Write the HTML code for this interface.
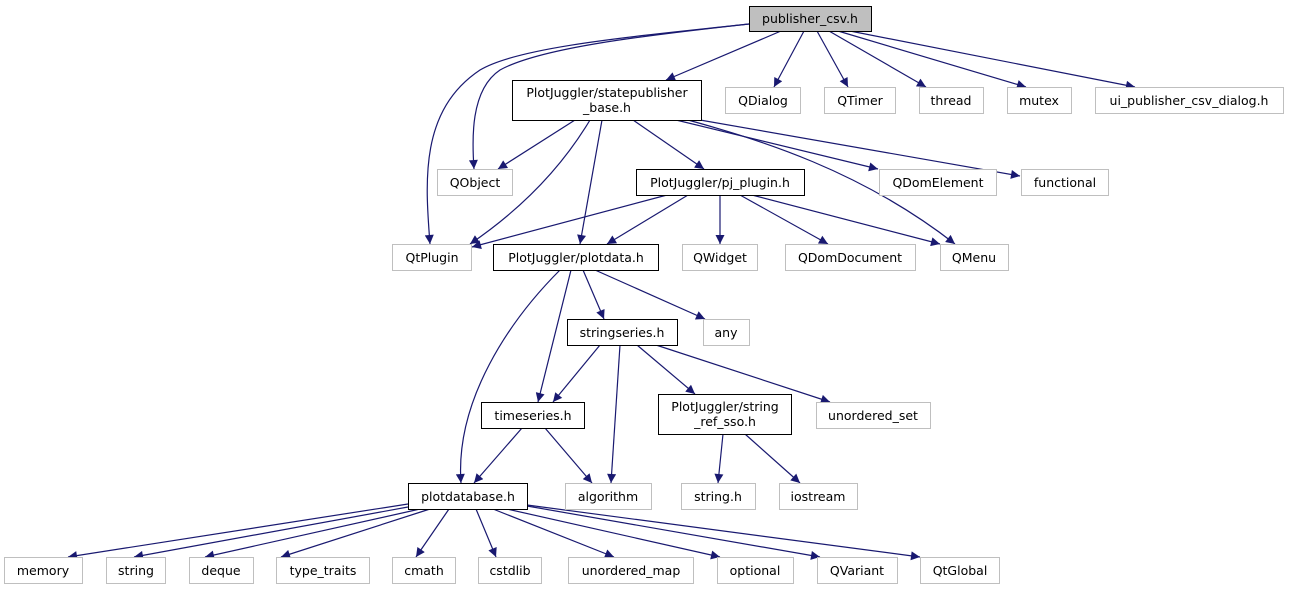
<!DOCTYPE html>
<html><head><meta charset="utf-8"><style>
body{margin:0;background:#fff;}
svg text{font-family:"DejaVu Sans","Liberation Sans",sans-serif;font-size:12.5px;text-anchor:middle;fill:#000;}
</style></head><body>
<svg width="1291" height="589" viewBox="0 0 1291 589" xmlns="http://www.w3.org/2000/svg">
<defs><marker id="a" viewBox="0 0 10 10" refX="10" refY="5" markerWidth="10" markerHeight="9" markerUnits="userSpaceOnUse" orient="auto"><path d="M0,0L10,5L0,10z" fill="#191970"/></marker></defs>
<g fill="none" stroke="#191970" stroke-width="1.2" marker-end="url(#a)">
<path d="M749,24C640,36 520,46 480,70C420,110 425,180 430,244"/>
<path d="M749,24C640,36 540,48 500,70C470,90 472,140 474,169"/>
<path d="M781,31L666,80"/>
<path d="M804,31L774,87"/>
<path d="M817,31L848,87"/>
<path d="M829,31L926,87"/>
<path d="M838,31L1026,87"/>
<path d="M850,31L1135,87"/>
<path d="M575,120L498,169"/>
<path d="M590,120C560,170 520,210 470,244"/>
<path d="M602,120L580,244"/>
<path d="M633,120L704,169"/>
<path d="M676,120L878,169"/>
<path d="M688,120C760,140 860,170 955,244"/>
<path d="M700,120L1020,176"/>
<path d="M667,195L472,247"/>
<path d="M688,195L607,244"/>
<path d="M720,195L720,244"/>
<path d="M740,195L828,244"/>
<path d="M752,195L940,244"/>
<path d="M560,270C510,320 455,400 461,483"/>
<path d="M571,270L538,402"/>
<path d="M583,270L604,319"/>
<path d="M595,270L705,319"/>
<path d="M600,345L553,402"/>
<path d="M620,345L611,483"/>
<path d="M637,345L695,394"/>
<path d="M656,345L830,402"/>
<path d="M522,428L474,483"/>
<path d="M545,428L592,483"/>
<path d="M723,434L718,483"/>
<path d="M745,434L800,483"/>
<path d="M408,504L68,557"/>
<path d="M408,507L134,557"/>
<path d="M420,509L205,557"/>
<path d="M430,509L281,557"/>
<path d="M449,509L416,557"/>
<path d="M476,509L496,557"/>
<path d="M493,509L614,557"/>
<path d="M507,509L720,557"/>
<path d="M527,506L820,557"/>
<path d="M527,505L920,557"/>
</g>
<g stroke-width="1">
<rect x="749.5" y="6.5" width="122" height="25" fill="#bfbfbf" stroke="#000"/>
<rect x="512.5" y="80.5" width="189" height="40" fill="#fff" stroke="#000"/>
<rect x="636.5" y="169.5" width="168" height="26" fill="#fff" stroke="#000"/>
<rect x="493.5" y="244.5" width="165" height="26" fill="#fff" stroke="#000"/>
<rect x="567.5" y="319.5" width="110" height="26" fill="#fff" stroke="#000"/>
<rect x="481.5" y="402.5" width="103" height="26" fill="#fff" stroke="#000"/>
<rect x="658.5" y="394.5" width="133" height="40" fill="#fff" stroke="#000"/>
<rect x="408.5" y="483.5" width="119" height="26" fill="#fff" stroke="#000"/>
<g fill="#fff" stroke="#bfbfbf">
<rect x="725.5" y="87.5" width="75" height="26"/>
<rect x="824.5" y="87.5" width="71" height="26"/>
<rect x="919.5" y="87.5" width="64" height="26"/>
<rect x="1007.5" y="87.5" width="64" height="26"/>
<rect x="1095.5" y="87.5" width="188" height="26"/>
<rect x="437.5" y="169.5" width="75" height="26"/>
<rect x="879.5" y="169.5" width="117" height="26"/>
<rect x="1021.5" y="169.5" width="87" height="26"/>
<rect x="392.5" y="244.5" width="79" height="26"/>
<rect x="682.5" y="244.5" width="75" height="26"/>
<rect x="785.5" y="244.5" width="130" height="26"/>
<rect x="940.5" y="244.5" width="68" height="26"/>
<rect x="703.5" y="319.5" width="46" height="26"/>
<rect x="816.5" y="402.5" width="114" height="26"/>
<rect x="565.5" y="483.5" width="86" height="26"/>
<rect x="681.5" y="483.5" width="74" height="26"/>
<rect x="779.5" y="483.5" width="78" height="26"/>
<rect x="4.5" y="557.5" width="78" height="26"/>
<rect x="106.5" y="557.5" width="59" height="26"/>
<rect x="189.5" y="557.5" width="64" height="26"/>
<rect x="276.5" y="557.5" width="93" height="26"/>
<rect x="392.5" y="557.5" width="63" height="26"/>
<rect x="478.5" y="557.5" width="63" height="26"/>
<rect x="568.5" y="557.5" width="125" height="26"/>
<rect x="717.5" y="557.5" width="76" height="26"/>
<rect x="817.5" y="557.5" width="80" height="26"/>
<rect x="920.5" y="557.5" width="79" height="26"/>
</g></g>
<text x="810" y="23">publisher_csv.h</text>
<text x="607" y="97">PlotJuggler/statepublisher</text>
<text x="607" y="112">_base.h</text>
<text x="763" y="105">QDialog</text>
<text x="860" y="105">QTimer</text>
<text x="951" y="105">thread</text>
<text x="1039" y="105">mutex</text>
<text x="1189" y="105">ui_publisher_csv_dialog.h</text>
<text x="475" y="187">QObject</text>
<text x="720" y="187">PlotJuggler/pj_plugin.h</text>
<text x="938" y="187">QDomElement</text>
<text x="1065" y="187">functional</text>
<text x="432" y="262">QtPlugin</text>
<text x="576" y="262">PlotJuggler/plotdata.h</text>
<text x="720" y="262">QWidget</text>
<text x="850" y="262">QDomDocument</text>
<text x="974" y="262">QMenu</text>
<text x="622" y="337">stringseries.h</text>
<text x="726" y="337">any</text>
<text x="533" y="420">timeseries.h</text>
<text x="725" y="411">PlotJuggler/string</text>
<text x="725" y="426">_ref_sso.h</text>
<text x="873" y="420">unordered_set</text>
<text x="468" y="501">plotdatabase.h</text>
<text x="608" y="501">algorithm</text>
<text x="718" y="501">string.h</text>
<text x="818" y="501">iostream</text>
<text x="43" y="575">memory</text>
<text x="136" y="575">string</text>
<text x="221" y="575">deque</text>
<text x="323" y="575">type_traits</text>
<text x="424" y="575">cmath</text>
<text x="510" y="575">cstdlib</text>
<text x="631" y="575">unordered_map</text>
<text x="755" y="575">optional</text>
<text x="857" y="575">QVariant</text>
<text x="960" y="575">QtGlobal</text>
</svg>
</body></html>
